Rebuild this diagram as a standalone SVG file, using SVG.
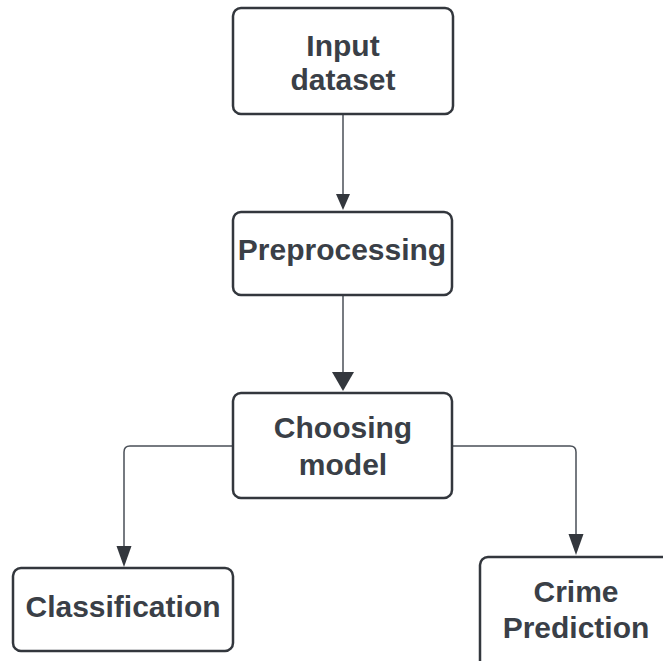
<svg xmlns="http://www.w3.org/2000/svg" width="663" height="661" viewBox="0 0 663 661">
<style>
.box{fill:#fff;stroke:#33373d;stroke-width:2.5}
.t{font-family:"Liberation Sans",Arial,sans-serif;font-weight:bold;font-size:30px;fill:#3a3f47;text-anchor:middle}
.c{fill:none;stroke:#4a4f57;stroke-width:1.5}
.h{fill:#33373d}
</style>
<rect width="663" height="661" fill="#fff"/>
<g id="connectors">
<line class="c" x1="343" y1="114" x2="343" y2="196"/>
<polygon class="h" points="336,194 350,194 343,210"/>
<line class="c" x1="343" y1="295" x2="343" y2="374"/>
<polygon class="h" points="332,372 354,372 343,391"/>
<path class="c" d="M233,446 H130 Q124,446 124,452 V548"/>
<polygon class="h" points="116.5,546 131.5,546 124,567"/>
<path class="c" d="M452,446 H570 Q576,446 576,452 V536"/>
<polygon class="h" points="568.5,534 583.5,534 576,555"/>
</g>
<g id="input">
<rect class="box" x="233" y="8" width="220" height="106" rx="8"/>
<text class="t" x="343" y="56">Input</text>
<text class="t" x="343" y="90">dataset</text>
</g>
<g id="preprocessing">
<rect class="box" x="233" y="212" width="219" height="83" rx="8"/>
<text class="t" x="342" y="260">Preprocessing</text>
</g>
<g id="choosing">
<rect class="box" x="233" y="393" width="219" height="105" rx="8"/>
<text class="t" x="343" y="438">Choosing</text>
<text class="t" x="343" y="475">model</text>
</g>
<g id="classification">
<rect class="box" x="13" y="568" width="220" height="83" rx="8"/>
<text class="t" x="123" y="617">Classification</text>
</g>
<g id="crime">
<rect class="box" x="480" y="557" width="200" height="120" rx="8"/>
<text class="t" x="576" y="602">Crime</text>
<text class="t" x="576" y="638">Prediction</text>
</g>
</svg>
